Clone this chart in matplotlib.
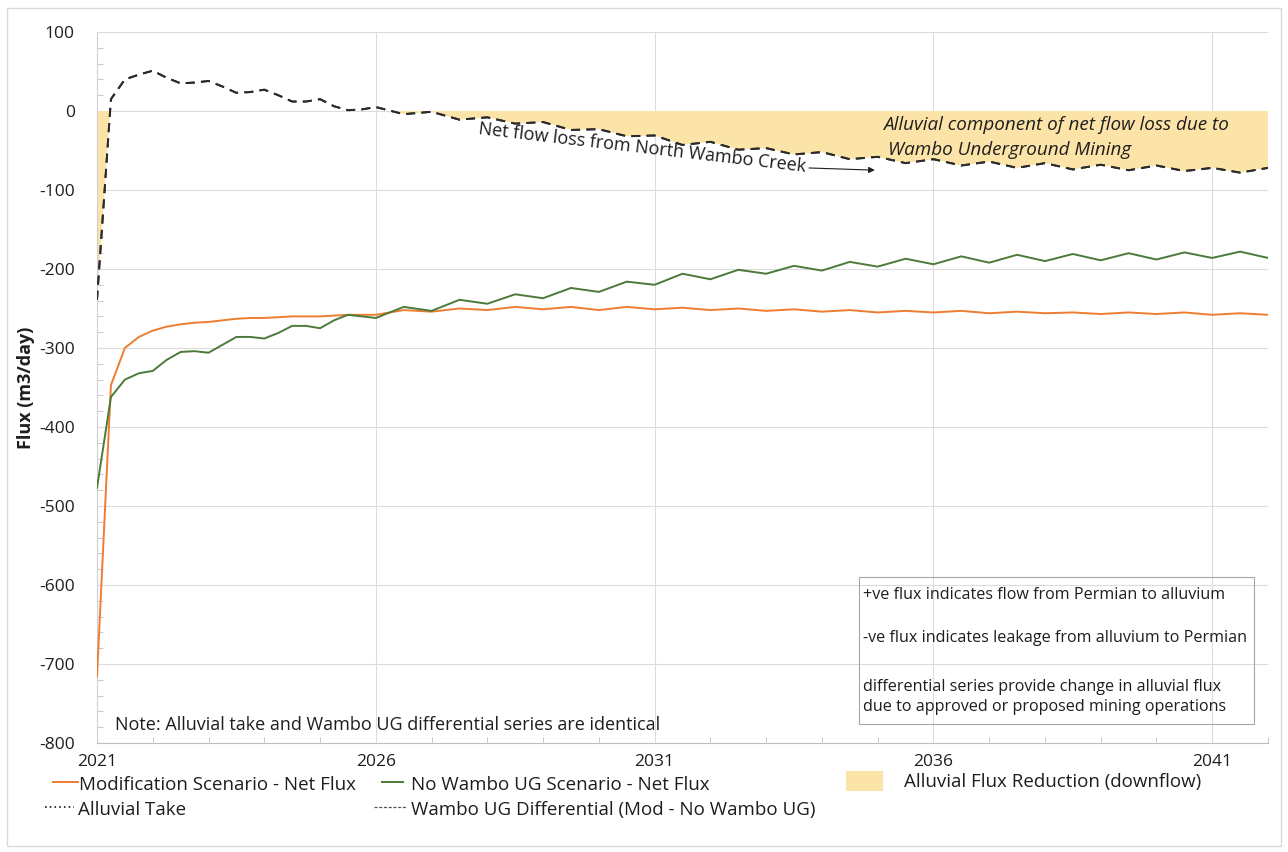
import numpy as np
import matplotlib
matplotlib.use('Agg')
import matplotlib.pyplot as plt
from matplotlib.lines import Line2D
from matplotlib.patches import Patch, Rectangle

plt.rcParams['font.family'] = ['Open Sans', 'DejaVu Sans']
plt.rcParams['axes.unicode_minus'] = False
plt.rcParams['lines.scale_dashes'] = False

# Datas: trimestral até 2026, semestral depois
anos = np.concatenate([np.arange(2021.0, 2026.01, 0.25), np.arange(2026.5, 2042.01, 0.5)])

mod_fluxo = [-716, -347, -300, -286, -278, -273, -270, -268, -267, -265, -263, -262,
             -262, -261, -260, -260, -260, -259, -258, -258, -258,
             -252, -254, -250, -252, -248, -251, -248, -252, -248, -251, -249, -252,
             -250, -253, -251, -254, -252, -255, -253, -255, -253, -256, -254, -256,
             -255, -257, -255, -257, -255, -258, -256, -258]

sem_wambo_fluxo = [-477, -362, -340, -332, -329, -315, -305, -304, -306, -296, -286, -286,
                   -288, -281, -272, -272, -275, -265, -258, -260, -262,
                   -248, -253, -239, -244, -232, -237, -224, -229, -216, -220, -206, -213,
                   -201, -206, -196, -202, -191, -197, -187, -194, -184, -192, -182, -190,
                   -181, -189, -180, -188, -179, -186, -178, -186]

wambo_diferencial = [-239, 15, 40, 46, 51, 42, 35, 36, 38, 31, 23, 24,
                     27, 20, 12, 12, 15, 6, 1, 2, 5,
                     -4, -1, -11, -8, -16, -14, -24, -23, -32, -31, -43, -39,
                     -49, -47, -55, -52, -61, -58, -66, -61, -69, -64, -72, -66,
                     -74, -68, -75, -69, -76, -72, -78, -72]

# a nota diz que as duas séries são idênticas
alluvial_take = list(wambo_diferencial)

anos_ticks = [2021, 2026, 2031, 2036, 2041]

LARANJA = '#ED7D31'
VERDE = '#4B7A3A'
TRACO = '#2b2b2b'
AREA = '#FCE4A8'

W, H = 1288, 852
fig = plt.figure(figsize=(W / 100, H / 100), dpi=100)
ax = fig.add_axes([97 / W, 1 - 743 / H, (1268 - 97) / W, (743 - 32) / H])

# área de redução do fluxo aluvial
take = np.array(alluvial_take, dtype=float)
ax.fill_between(anos, take, 0, where=take < 0, interpolate=True, color=AREA, lw=0, zorder=1)

ax.plot(anos, mod_fluxo, color=LARANJA, lw=1.4, zorder=3)
ax.plot(anos, sem_wambo_fluxo, color=VERDE, lw=1.4, zorder=3)
ax.plot(anos, wambo_diferencial, color=TRACO, lw=1.4, dashes=(6.5, 4.5), zorder=4)
ax.plot(anos, alluvial_take, color=TRACO, lw=1.4, dashes=(6.5, 4.5), zorder=4)

ax.set_xlim(2021, 2042)
ax.set_ylim(-800, 100)
ax.set_yticks(np.arange(-800, 101, 100))
ax.set_yticks(np.arange(-800, 101, 20), minor=True)
ax.set_xticks(anos_ticks)
ax.set_xticks(np.arange(2021, 2043, 1), minor=True)
ax.grid(True, which='major', color='#DCDCDC', lw=0.8, zorder=0)
ax.set_axisbelow(True)

for lado in ['top', 'right']:
    ax.spines[lado].set_visible(False)
ax.spines['left'].set_color('#D0D0D0')
ax.spines['bottom'].set_color('#BFBFBF')
ax.tick_params(axis='both', which='both', direction='in', color='#BFBFBF')
ax.tick_params(axis='both', which='major', length=0, labelsize=12.5, labelcolor='#1e1e1e')
ax.tick_params(axis='y', which='major', pad=16)
ax.tick_params(axis='x', which='major', pad=8)
ax.tick_params(axis='both', which='minor', length=4)

ax.set_ylabel('Flux (m3/day)', fontsize=13, fontweight='bold', color='#1e1e1e')
ax.yaxis.set_label_coords(-0.053, 0.5)

# anotações
ax.text(2030.78, -47, 'Net flow loss from North Wambo Creek', fontsize=13,
        rotation=-6.6, rotation_mode='anchor', ha='center', va='center',
        color='#1e1e1e', zorder=5)
ax.annotate('', xy=(2035.0, -75), xytext=(2033.72, -72),
            arrowprops=dict(arrowstyle='-|>', lw=0.8, color='#1e1e1e', mutation_scale=9))
ax.text(2035.09, -24, 'Alluvial component of net flow loss due to', fontsize=13.6,
        style='italic', ha='left', va='baseline', color='#1e1e1e', zorder=5)
ax.text(2035.18, -56, 'Wambo Underground Mining', fontsize=13.6,
        style='italic', ha='left', va='baseline', color='#1e1e1e', zorder=5)

ax.text(2021.33, -777, 'Note: Alluvial take and Wambo UG differential series are identical',
        fontsize=13, ha='left', va='center', color='#1e1e1e')

# caixa de explicação
ax.add_patch(Rectangle((2034.67, -776), 7.08, 186, fill=False, ec='#A6A6A6', lw=0.8, zorder=5))
caixa = [(-613, '+ve flux indicates flow from Permian to alluvium'),
         (-667, '-ve flux indicates leakage from alluvium to Permian'),
         (-729, 'differential series provide change in alluvial flux'),
         (-754, 'due to approved or proposed mining operations')]
for yv, txt in caixa:
    ax.text(2034.74, yv, txt, fontsize=11.6, ha='left', va='center', color='#1e1e1e', zorder=6)

# legenda (uma entrada por legenda para controlar a posição)
itens = [
    (Line2D([], [], color=LARANJA, lw=1.4), 'Modification Scenario - Net Flux', 53, 784, 1.33, 0.05),
    (Line2D([], [], color=TRACO, lw=1.3, ls=(0, (1.2, 2.2))), 'Alluvial Take', 45, 809, 1.55, 0.2),
    (Line2D([], [], color=VERDE, lw=1.4), 'No Wambo UG Scenario - Net Flux', 382, 784, 1.12, 0.43),
    (Line2D([], [], color='#555555', lw=0.9, ls=(0, (2.2, 1.2))), 'Wambo UG Differential (Mod - No Wambo UG)', 374, 809, 1.76, 0.2),
    (Patch(facecolor=AREA, edgecolor='none'), 'Alluvial Flux Reduction (downflow)', 846, 781, 1.97, 1.12),
]
for h, lab, px, py, hl, tp in itens:
    fig.legend(handles=[h], labels=[lab], loc='center left', bbox_to_anchor=(px / W, 1 - py / H),
               frameon=False, fontsize=13.5, handlelength=hl, handletextpad=tp,
               handleheight=1.33, borderpad=0, borderaxespad=0, labelcolor='#1e1e1e')

# borda do gráfico
fig.add_artist(Rectangle((7 / W, 1 - 846 / H), (1281 - 7) / W, (846 - 8) / H,
                         transform=fig.transFigure, fill=False, ec='#D9D9D9', lw=1))

fig.savefig('out.png', dpi=100, facecolor='white')
